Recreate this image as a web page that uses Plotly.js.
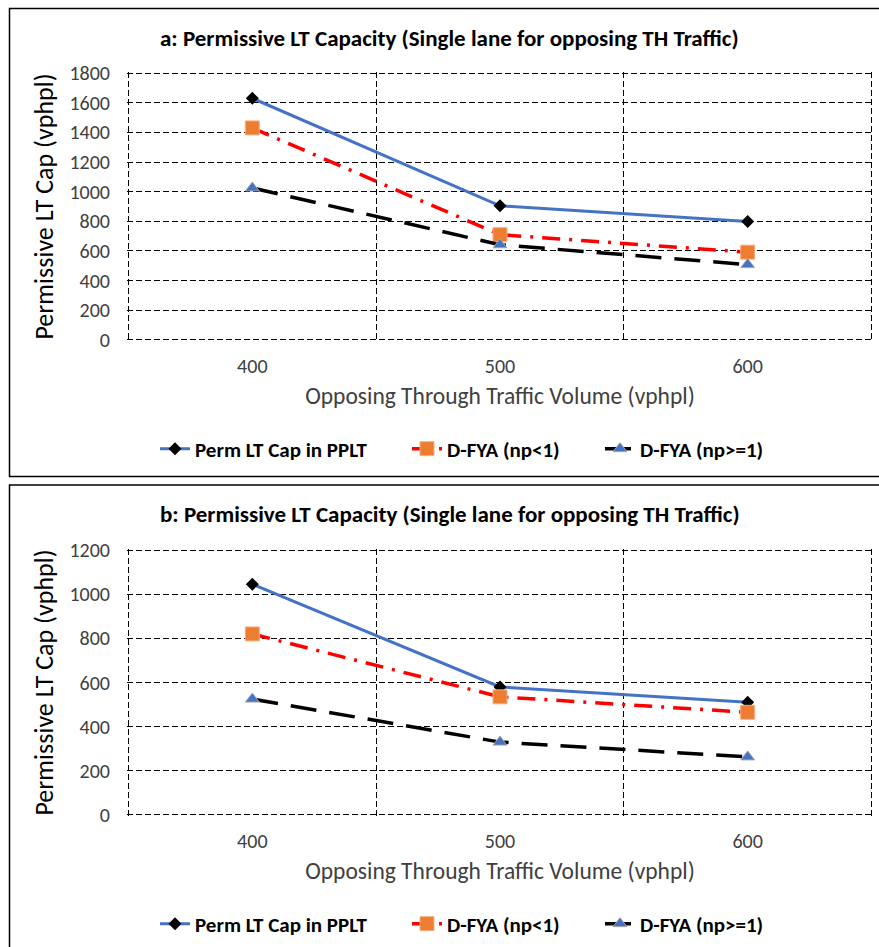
<!DOCTYPE html>
<html>
<head>
<meta charset="utf-8">
<script src="https://cdn.plot.ly/plotly-3.0.1.min.js"></script>
<style>html,body{margin:0;padding:0;background:#fff;}#chart{width:879px;height:947px;}</style>
</head>
<body>
<div id="chart"></div>
<script>
// ---- data ----
const volumes = [400, 500, 600];
const seriesNames = ["Perm LT Cap in PPLT", "D-FYA (np<1)", "D-FYA (np>=1)"];
// Panel a
const a_permLT = [1630, 905, 798];
const a_dfyaLt1 = [1430, 710, 592];
const a_dfyaGe1 = [1025, 642, 508];
// Panel b
const b_permLT = [1045, 580, 510];
const b_dfyaLt1 = [820, 535, 465];
const b_dfyaGe1 = [525, 330, 263];
const titleA = "a: Permissive LT Capacity (Single lane for opposing TH Traffic)";
const titleB = "b: Permissive LT Capacity (Single lane for opposing TH Traffic)";
const xTitle = "Opposing Through Traffic Volume (vphpl)";
const yTitle = "Permissive LT Cap (vphpl)";
const yTicksA = [0, 200, 400, 600, 800, 1000, 1200, 1400, 1600, 1800];
const yTicksB = [0, 200, 400, 600, 800, 1000, 1200];
const xGridVals = [350, 450, 550, 650];

const FONT = "Carlito, 'Liberation Sans Narrow', 'Liberation Sans', Arial, sans-serif";
const W = 879, H = 947;

const styles = [
  {line: {color: '#4472C4', width: 3, dash: 'solid'},
   marker: {symbol: 'diamond', size: 10, color: '#000000'}},
  {line: {color: '#FF0000', width: 3.5, dash: '18px,9px,3px,9px'},
   marker: {symbol: 'square', size: 14, color: '#ED7D31', line: {color: '#F4B183', width: 1}}},
  {line: {color: '#000000', width: 3.5, dash: '26px,13px'},
   marker: {symbol: 'triangle-up', size: 12, color: '#4472C4', line: {color: '#A5A5A5', width: 1}}}
];

const legA = ['legend', 'legend2', 'legend3'];
const legB = ['legend4', 'legend5', 'legend6'];

function mk(ys, i, xa, ya, leg) {
  return {x: volumes, y: ys, name: seriesNames[i], type: 'scatter', mode: 'lines+markers',
    xaxis: xa, yaxis: ya, legend: leg, line: styles[i].line, marker: styles[i].marker, cliponaxis: false};
}

const traces = [
  mk(a_permLT, 0, 'x', 'y', legA[0]),
  mk(a_dfyaLt1, 1, 'x', 'y', legA[1]),
  mk(a_dfyaGe1, 2, 'x', 'y', legA[2]),
  mk(b_permLT, 0, 'x3', 'y2', legB[0]),
  mk(b_dfyaLt1, 1, 'x3', 'y2', legB[1]),
  mk(b_dfyaGe1, 2, 'x3', 'y2', legB[2]),
  // empty traces so the vertical grid overlay axes are drawn
  {x: [], y: [], xaxis: 'x2', yaxis: 'y', showlegend: false, hoverinfo: 'skip'},
  {x: [], y: [], xaxis: 'x4', yaxis: 'y2', showlegend: false, hoverinfo: 'skip'}
];

const xDom = [127 / W, 873 / W];
const domA = [1 - 341 / H, 1 - 72 / H];
const domB = [1 - 816 / H, 1 - 549 / H];
const XR = [349.4, 650.6];

function xMain(anchor) {
  return {domain: xDom, anchor: anchor, range: XR, tickvals: volumes, ticktext: volumes.map(String),
    showgrid: false, zeroline: false, showline: false, ticks: '', ticklabelstandoff: 11,
    tickfont: {family: FONT, size: 20, color: '#404040'},
    title: {text: xTitle, font: {family: FONT, size: 23.5, color: '#404040'}, standoff: 10}, automargin: false};
}
function xGrid(anchor, overlay) {
  return {domain: xDom, anchor: anchor, overlaying: overlay, range: XR, tickvals: xGridVals,
    showticklabels: false, showgrid: true, gridcolor: '#000000', gridwidth: 1, griddash: '6px,3px',
    zeroline: false, showline: false, ticks: ''};
}
function yAxis(dom, max, ticks, anchor) {
  const e = max * 0.004;
  return {domain: dom, anchor: anchor, range: [-e, max + e], tickvals: ticks, showgrid: true, gridcolor: '#000000',
    gridwidth: 1, griddash: '6px,3px', zeroline: false, showline: false, ticks: '', ticklabelstandoff: 16,
    tickfont: {family: FONT, size: 20, color: '#404040'},
    title: {text: yTitle, font: {family: FONT, size: 26, color: '#000000'}, standoff: 8}, automargin: false};
}

const legendCommon = {orientation: 'h', xanchor: 'left', yanchor: 'middle', bgcolor: 'rgba(0,0,0,0)',
  font: {family: FONT, size: 21, color: '#000000', weight: 'bold'}, itemwidth: 30};
const legXs = [155, 407, 600];

const layout = {
  width: W, height: H, margin: {l: 0, r: 0, t: 0, b: 0},
  paper_bgcolor: '#ffffff', plot_bgcolor: '#ffffff', showlegend: true,
  xaxis: xMain('y'), xaxis2: xGrid('y', 'x'),
  xaxis3: xMain('y2'), xaxis4: xGrid('y2', 'x3'),
  yaxis: yAxis(domA, 1800, yTicksA, 'x'),
  yaxis2: yAxis(domB, 1200, yTicksB, 'x3'),
  annotations: [
    {text: titleA, xref: 'paper', yref: 'paper', x: 450 / W, y: 1 - 38 / H, showarrow: false,
     xanchor: 'center', yanchor: 'middle', font: {family: FONT, size: 23, color: '#000000', weight: 'bold'}},
    {text: titleB, xref: 'paper', yref: 'paper', x: 450 / W, y: 1 - 514 / H, showarrow: false,
     xanchor: 'center', yanchor: 'middle', font: {family: FONT, size: 23, color: '#000000', weight: 'bold'}}
  ],
  shapes: [
    {type: 'rect', xref: 'paper', yref: 'paper', x0: 9.5 / W, x1: 1.02, y0: 1 - 476.5 / H, y1: 1 - 8.5 / H,
     line: {color: '#000000', width: 1.5}, layer: 'below'},
    {type: 'rect', xref: 'paper', yref: 'paper', x0: 9.5 / W, x1: 1.02, y0: -0.02, y1: 1 - 485 / H,
     line: {color: '#000000', width: 1.5}, layer: 'below'}
  ]
};
legA.forEach((k, i) => { layout[k] = Object.assign({}, legendCommon, {x: legXs[i] / W, y: 1 - 449 / H}); });
legB.forEach((k, i) => { layout[k] = Object.assign({}, legendCommon, {x: legXs[i] / W, y: 1 - 924 / H}); });

Plotly.newPlot('chart', traces, layout, {displayModeBar: false, staticPlot: true});
</script>
</body>
</html>
